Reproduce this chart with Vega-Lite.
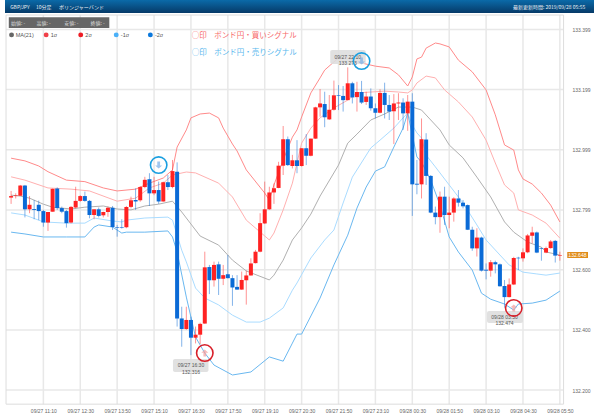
{
"$schema":"https://vega.github.io/schema/vega-lite/v6.json",
"width":599,"height":413,"padding":0,"autosize":{"type":"none"},"background":"#ffffff",
"config":{"view":{"stroke":null},"text":{"font":"Noto Sans CJK JP"},"axis":{"labelFont":"Liberation Sans"}},
"datasets":{
"candles":[
{"t":"2019-09-27T10:00","o":132.840,"h":132.862,"l":132.819,"c":132.845},
{"t":"2019-09-27T10:10","o":132.845,"h":132.854,"l":132.837,"c":132.847},
{"t":"2019-09-27T10:20","o":132.846,"h":132.882,"l":132.846,"c":132.880},
{"t":"2019-09-27T10:30","o":132.880,"h":132.882,"l":132.774,"c":132.801},
{"t":"2019-09-27T10:40","o":132.801,"h":132.845,"l":132.788,"c":132.816},
{"t":"2019-09-27T10:50","o":132.802,"h":132.832,"l":132.768,"c":132.799},
{"t":"2019-09-27T11:00","o":132.816,"h":132.830,"l":132.765,"c":132.795},
{"t":"2019-09-27T11:10","o":132.795,"h":132.799,"l":132.743,"c":132.757},
{"t":"2019-09-27T11:20","o":132.757,"h":132.792,"l":132.729,"c":132.792},
{"t":"2019-09-27T11:30","o":132.793,"h":132.870,"l":132.793,"c":132.869},
{"t":"2019-09-27T11:40","o":132.870,"h":132.874,"l":132.799,"c":132.805},
{"t":"2019-09-27T11:50","o":132.805,"h":132.810,"l":132.788,"c":132.793},
{"t":"2019-09-27T12:00","o":132.795,"h":132.799,"l":132.740,"c":132.755},
{"t":"2019-09-27T12:10","o":132.757,"h":132.812,"l":132.754,"c":132.809},
{"t":"2019-09-27T12:20","o":132.807,"h":132.876,"l":132.804,"c":132.829},
{"t":"2019-09-27T12:30","o":132.829,"h":132.848,"l":132.826,"c":132.845},
{"t":"2019-09-27T12:40","o":132.845,"h":132.860,"l":132.826,"c":132.829},
{"t":"2019-09-27T12:50","o":132.829,"h":132.832,"l":132.771,"c":132.782},
{"t":"2019-09-27T13:00","o":132.782,"h":132.801,"l":132.768,"c":132.801},
{"t":"2019-09-27T13:10","o":132.801,"h":132.807,"l":132.774,"c":132.779},
{"t":"2019-09-27T13:20","o":132.781,"h":132.793,"l":132.774,"c":132.792},
{"t":"2019-09-27T13:30","o":132.792,"h":132.810,"l":132.776,"c":132.806},
{"t":"2019-09-27T13:40","o":132.806,"h":132.812,"l":132.732,"c":132.742},
{"t":"2019-09-27T13:50","o":132.742,"h":132.749,"l":132.710,"c":132.740},
{"t":"2019-09-27T14:00","o":132.741,"h":132.768,"l":132.737,"c":132.739},
{"t":"2019-09-27T14:10","o":132.741,"h":132.812,"l":132.738,"c":132.809},
{"t":"2019-09-27T14:20","o":132.809,"h":132.843,"l":132.804,"c":132.831},
{"t":"2019-09-27T14:30","o":132.832,"h":132.871,"l":132.799,"c":132.827},
{"t":"2019-09-27T14:40","o":132.831,"h":132.878,"l":132.826,"c":132.875},
{"t":"2019-09-27T14:50","o":132.875,"h":132.909,"l":132.871,"c":132.899},
{"t":"2019-09-27T15:00","o":132.901,"h":132.921,"l":132.812,"c":132.854},
{"t":"2019-09-27T15:10","o":132.854,"h":132.909,"l":132.848,"c":132.865},
{"t":"2019-09-27T15:20","o":132.865,"h":132.893,"l":132.819,"c":132.827},
{"t":"2019-09-27T15:30","o":132.827,"h":132.893,"l":132.826,"c":132.891},
{"t":"2019-09-27T15:40","o":132.891,"h":132.915,"l":132.865,"c":132.875},
{"t":"2019-09-27T15:50","o":132.875,"h":132.965,"l":132.871,"c":132.928},
{"t":"2019-09-27T16:00","o":132.926,"h":132.957,"l":132.411,"c":132.438},
{"t":"2019-09-27T16:10","o":132.438,"h":132.477,"l":132.344,"c":132.403},
{"t":"2019-09-27T16:20","o":132.403,"h":132.477,"l":132.400,"c":132.433},
{"t":"2019-09-27T16:30","o":132.433,"h":132.444,"l":132.316,"c":132.374},
{"t":"2019-09-27T16:40","o":132.374,"h":132.411,"l":132.355,"c":132.384},
{"t":"2019-09-27T16:50","o":132.384,"h":132.424,"l":132.353,"c":132.420},
{"t":"2019-09-27T17:00","o":132.421,"h":132.660,"l":132.420,"c":132.608},
{"t":"2019-09-27T17:10","o":132.609,"h":132.616,"l":132.519,"c":132.565},
{"t":"2019-09-27T17:20","o":132.565,"h":132.627,"l":132.544,"c":132.616},
{"t":"2019-09-27T17:30","o":132.618,"h":132.627,"l":132.516,"c":132.570},
{"t":"2019-09-27T17:40","o":132.570,"h":132.616,"l":132.549,"c":132.582},
{"t":"2019-09-27T17:50","o":132.585,"h":132.649,"l":132.571,"c":132.572},
{"t":"2019-09-27T18:00","o":132.572,"h":132.582,"l":132.480,"c":132.541},
{"t":"2019-09-27T18:10","o":132.543,"h":132.582,"l":132.533,"c":132.534},
{"t":"2019-09-27T18:20","o":132.534,"h":132.594,"l":132.533,"c":132.566},
{"t":"2019-09-27T18:30","o":132.565,"h":132.597,"l":132.484,"c":132.581},
{"t":"2019-09-27T18:40","o":132.581,"h":132.638,"l":132.580,"c":132.621},
{"t":"2019-09-27T18:50","o":132.622,"h":132.666,"l":132.621,"c":132.660},
{"t":"2019-09-27T19:00","o":132.660,"h":132.788,"l":132.658,"c":132.755},
{"t":"2019-09-27T19:10","o":132.754,"h":132.893,"l":132.752,"c":132.801},
{"t":"2019-09-27T19:20","o":132.801,"h":132.876,"l":132.799,"c":132.857},
{"t":"2019-09-27T19:30","o":132.857,"h":132.887,"l":132.819,"c":132.871},
{"t":"2019-09-27T19:40","o":132.872,"h":132.959,"l":132.871,"c":132.946},
{"t":"2019-09-27T19:50","o":132.946,"h":133.078,"l":132.915,"c":133.034},
{"t":"2019-09-27T20:00","o":133.034,"h":133.043,"l":132.945,"c":132.948},
{"t":"2019-09-27T20:10","o":132.945,"h":132.982,"l":132.937,"c":132.964},
{"t":"2019-09-27T20:20","o":132.964,"h":133.031,"l":132.921,"c":132.945},
{"t":"2019-09-27T20:30","o":132.945,"h":133.004,"l":132.943,"c":133.004},
{"t":"2019-09-27T20:40","o":133.004,"h":133.051,"l":132.948,"c":132.979},
{"t":"2019-09-27T20:50","o":132.979,"h":133.036,"l":132.977,"c":133.036},
{"t":"2019-09-27T21:00","o":133.036,"h":133.142,"l":133.035,"c":133.140},
{"t":"2019-09-27T21:10","o":133.140,"h":133.201,"l":133.109,"c":133.153},
{"t":"2019-09-27T21:20","o":133.151,"h":133.192,"l":133.074,"c":133.107},
{"t":"2019-09-27T21:30","o":133.100,"h":133.181,"l":133.098,"c":133.132},
{"t":"2019-09-27T21:40","o":133.132,"h":133.229,"l":133.129,"c":133.180},
{"t":"2019-09-27T21:50","o":133.180,"h":133.214,"l":133.131,"c":133.178},
{"t":"2019-09-27T22:00","o":133.178,"h":133.211,"l":133.126,"c":133.164},
{"t":"2019-09-27T22:10","o":133.164,"h":133.273,"l":133.164,"c":133.220},
{"t":"2019-09-27T22:20","o":133.220,"h":133.225,"l":133.153,"c":133.173},
{"t":"2019-09-27T22:30","o":133.174,"h":133.225,"l":133.126,"c":133.191},
{"t":"2019-09-27T22:40","o":133.191,"h":133.228,"l":133.151,"c":133.156},
{"t":"2019-09-27T22:50","o":133.158,"h":133.192,"l":133.148,"c":133.176},
{"t":"2019-09-27T23:00","o":133.176,"h":133.203,"l":133.129,"c":133.137},
{"t":"2019-09-27T23:10","o":133.137,"h":133.153,"l":133.103,"c":133.122},
{"t":"2019-09-27T23:20","o":133.122,"h":133.200,"l":133.120,"c":133.188},
{"t":"2019-09-27T23:30","o":133.188,"h":133.222,"l":133.103,"c":133.148},
{"t":"2019-09-27T23:40","o":133.148,"h":133.181,"l":133.098,"c":133.126},
{"t":"2019-09-27T23:50","o":133.127,"h":133.184,"l":133.018,"c":133.153},
{"t":"2019-09-28T00:00","o":133.153,"h":133.187,"l":133.098,"c":133.156},
{"t":"2019-09-28T00:10","o":133.156,"h":133.170,"l":133.065,"c":133.120},
{"t":"2019-09-28T00:20","o":133.120,"h":133.181,"l":133.062,"c":133.159},
{"t":"2019-09-28T00:30","o":133.159,"h":133.187,"l":132.779,"c":132.884},
{"t":"2019-09-28T00:40","o":132.886,"h":132.965,"l":132.851,"c":132.883},
{"t":"2019-09-28T00:50","o":132.884,"h":133.103,"l":132.837,"c":133.034},
{"t":"2019-09-28T01:00","o":133.033,"h":133.054,"l":132.882,"c":132.912},
{"t":"2019-09-28T01:10","o":132.912,"h":132.915,"l":132.788,"c":132.790},
{"t":"2019-09-28T01:20","o":132.790,"h":132.810,"l":132.751,"c":132.775},
{"t":"2019-09-28T01:30","o":132.775,"h":132.860,"l":132.723,"c":132.843},
{"t":"2019-09-28T01:40","o":132.843,"h":132.876,"l":132.749,"c":132.782},
{"t":"2019-09-28T01:50","o":132.782,"h":132.843,"l":132.738,"c":132.790},
{"t":"2019-09-28T02:00","o":132.790,"h":132.841,"l":132.760,"c":132.837},
{"t":"2019-09-28T02:10","o":132.837,"h":132.865,"l":132.810,"c":132.823},
{"t":"2019-09-28T02:20","o":132.823,"h":132.832,"l":132.804,"c":132.811},
{"t":"2019-09-28T02:30","o":132.815,"h":132.817,"l":132.732,"c":132.733},
{"t":"2019-09-28T02:40","o":132.733,"h":132.743,"l":132.663,"c":132.671},
{"t":"2019-09-28T02:50","o":132.671,"h":132.738,"l":132.644,"c":132.707},
{"t":"2019-09-28T03:00","o":132.707,"h":132.710,"l":132.594,"c":132.597},
{"t":"2019-09-28T03:10","o":132.600,"h":132.621,"l":132.568,"c":132.597},
{"t":"2019-09-28T03:20","o":132.597,"h":132.632,"l":132.577,"c":132.625},
{"t":"2019-09-28T03:30","o":132.625,"h":132.630,"l":132.588,"c":132.618},
{"t":"2019-09-28T03:40","o":132.618,"h":132.621,"l":132.544,"c":132.545},
{"t":"2019-09-28T03:50","o":132.546,"h":132.566,"l":132.474,"c":132.509},
{"t":"2019-09-28T04:00","o":132.509,"h":132.571,"l":132.508,"c":132.551},
{"t":"2019-09-28T04:10","o":132.551,"h":132.643,"l":132.549,"c":132.639},
{"t":"2019-09-28T04:20","o":132.640,"h":132.643,"l":132.599,"c":132.638},
{"t":"2019-09-28T04:30","o":132.638,"h":132.671,"l":132.627,"c":132.658},
{"t":"2019-09-28T04:40","o":132.658,"h":132.719,"l":132.655,"c":132.714},
{"t":"2019-09-28T04:50","o":132.713,"h":132.743,"l":132.688,"c":132.724},
{"t":"2019-09-28T05:00","o":132.724,"h":132.727,"l":132.655,"c":132.657},
{"t":"2019-09-28T05:10","o":132.671,"h":132.674,"l":132.630,"c":132.669},
{"t":"2019-09-28T05:20","o":132.657,"h":132.677,"l":132.655,"c":132.672},
{"t":"2019-09-28T05:30","o":132.672,"h":132.699,"l":132.670,"c":132.694},
{"t":"2019-09-28T05:40","o":132.696,"h":132.699,"l":132.624,"c":132.647},
{"t":"2019-09-28T05:50","o":132.647,"h":132.660,"l":132.630,"c":132.649}
],
"bands":[
{"s":"MA(21)","t":"2019-09-27T10:00","v":132.848},{"s":"MA(21)","t":"2019-09-27T10:20","v":132.845},{"s":"MA(21)","t":"2019-09-27T10:40","v":132.838},{"s":"MA(21)","t":"2019-09-27T11:10","v":132.818},{"s":"MA(21)","t":"2019-09-27T11:30","v":132.808},{"s":"MA(21)","t":"2019-09-27T12:10","v":132.802},{"s":"MA(21)","t":"2019-09-27T12:40","v":132.808},{"s":"MA(21)","t":"2019-09-27T13:20","v":132.812},{"s":"MA(21)","t":"2019-09-27T13:50","v":132.802},{"s":"MA(21)","t":"2019-09-27T14:20","v":132.799},{"s":"MA(21)","t":"2019-09-27T14:50","v":132.812},{"s":"MA(21)","t":"2019-09-27T15:20","v":132.818},{"s":"MA(21)","t":"2019-09-27T15:50","v":132.828},{"s":"MA(21)","t":"2019-09-27T16:10","v":132.792},{"s":"MA(21)","t":"2019-09-27T16:20","v":132.772},{"s":"MA(21)","t":"2019-09-27T16:50","v":132.712},{"s":"MA(21)","t":"2019-09-27T17:30","v":132.682},{"s":"MA(21)","t":"2019-09-27T18:00","v":132.632},{"s":"MA(21)","t":"2019-09-27T18:30","v":132.596},{"s":"MA(21)","t":"2019-09-27T19:20","v":132.566},{"s":"MA(21)","t":"2019-09-27T19:30","v":132.582},{"s":"MA(21)","t":"2019-09-27T19:50","v":132.632},{"s":"MA(21)","t":"2019-09-27T20:10","v":132.699},{"s":"MA(21)","t":"2019-09-27T20:30","v":132.739},{"s":"MA(21)","t":"2019-09-27T20:50","v":132.785},{"s":"MA(21)","t":"2019-09-27T21:10","v":132.845},{"s":"MA(21)","t":"2019-09-27T21:50","v":132.948},{"s":"MA(21)","t":"2019-09-27T22:10","v":133.021},{"s":"MA(21)","t":"2019-09-27T22:30","v":133.051},{"s":"MA(21)","t":"2019-09-27T23:00","v":133.098},{"s":"MA(21)","t":"2019-09-27T23:30","v":133.118},{"s":"MA(21)","t":"2019-09-28T00:00","v":133.141},{"s":"MA(21)","t":"2019-09-28T00:30","v":133.141},{"s":"MA(21)","t":"2019-09-28T00:50","v":133.131},{"s":"MA(21)","t":"2019-09-28T01:10","v":133.098},{"s":"MA(21)","t":"2019-09-28T01:30","v":133.065},{"s":"MA(21)","t":"2019-09-28T01:50","v":133.015},{"s":"MA(21)","t":"2019-09-28T02:20","v":132.972},{"s":"MA(21)","t":"2019-09-28T02:50","v":132.908},{"s":"MA(21)","t":"2019-09-28T03:20","v":132.842},{"s":"MA(21)","t":"2019-09-28T03:50","v":132.759},{"s":"MA(21)","t":"2019-09-28T04:10","v":132.725},{"s":"MA(21)","t":"2019-09-28T04:40","v":132.692},{"s":"MA(21)","t":"2019-09-28T05:10","v":132.675},{"s":"MA(21)","t":"2019-09-28T05:20","v":132.659},{"s":"MA(21)","t":"2019-09-28T05:50","v":132.649},
{"s":"1σ","t":"2019-09-27T10:00","v":132.909},{"s":"1σ","t":"2019-09-27T10:30","v":132.898},{"s":"1σ","t":"2019-09-27T11:20","v":132.872},{"s":"1σ","t":"2019-09-27T12:10","v":132.868},{"s":"1σ","t":"2019-09-27T12:50","v":132.862},{"s":"1σ","t":"2019-09-27T13:50","v":132.828},{"s":"1σ","t":"2019-09-27T14:30","v":132.838},{"s":"1σ","t":"2019-09-27T15:00","v":132.872},{"s":"1σ","t":"2019-09-27T15:30","v":132.888},{"s":"1σ","t":"2019-09-27T15:50","v":132.915},{"s":"1σ","t":"2019-09-27T16:20","v":132.925},{"s":"1σ","t":"2019-09-27T16:40","v":132.922},{"s":"1σ","t":"2019-09-27T17:30","v":132.888},{"s":"1σ","t":"2019-09-27T18:00","v":132.842},{"s":"1σ","t":"2019-09-27T18:30","v":132.765},{"s":"1σ","t":"2019-09-27T19:20","v":132.699},{"s":"1σ","t":"2019-09-27T19:30","v":132.722},{"s":"1σ","t":"2019-09-27T19:50","v":132.799},{"s":"1σ","t":"2019-09-27T20:10","v":132.888},{"s":"1σ","t":"2019-09-27T20:20","v":132.955},{"s":"1σ","t":"2019-09-27T20:30","v":133.021},{"s":"1σ","t":"2019-09-27T20:50","v":133.071},{"s":"1σ","t":"2019-09-27T21:10","v":133.105},{"s":"1σ","t":"2019-09-27T21:40","v":133.138},{"s":"1σ","t":"2019-09-27T22:10","v":133.164},{"s":"1σ","t":"2019-09-27T22:30","v":133.188},{"s":"1σ","t":"2019-09-27T23:00","v":133.191},{"s":"1σ","t":"2019-09-27T23:30","v":133.194},{"s":"1σ","t":"2019-09-28T00:00","v":133.191},{"s":"1σ","t":"2019-09-28T00:20","v":133.188},{"s":"1σ","t":"2019-09-28T00:30","v":133.198},{"s":"1σ","t":"2019-09-28T00:40","v":133.221},{"s":"1σ","t":"2019-09-28T01:00","v":133.244},{"s":"1σ","t":"2019-09-28T01:20","v":133.238},{"s":"1σ","t":"2019-09-28T01:40","v":133.198},{"s":"1σ","t":"2019-09-28T02:10","v":133.158},{"s":"1σ","t":"2019-09-28T02:40","v":133.108},{"s":"1σ","t":"2019-09-28T03:10","v":133.031},{"s":"1σ","t":"2019-09-28T03:30","v":132.955},{"s":"1σ","t":"2019-09-28T03:50","v":132.882},{"s":"1σ","t":"2019-09-28T04:10","v":132.855},{"s":"1σ","t":"2019-09-28T04:20","v":132.799},{"s":"1σ","t":"2019-09-28T04:50","v":132.782},{"s":"1σ","t":"2019-09-28T05:20","v":132.755},{"s":"1σ","t":"2019-09-28T05:50","v":132.705},
{"s":"2σ","t":"2019-09-27T10:00","v":132.971},{"s":"2σ","t":"2019-09-27T10:30","v":132.962},{"s":"2σ","t":"2019-09-27T11:00","v":132.945},{"s":"2σ","t":"2019-09-27T11:20","v":132.926},{"s":"2σ","t":"2019-09-27T12:00","v":132.898},{"s":"2σ","t":"2019-09-27T12:40","v":132.893},{"s":"2σ","t":"2019-09-27T13:20","v":132.872},{"s":"2σ","t":"2019-09-27T13:50","v":132.862},{"s":"2σ","t":"2019-09-27T14:30","v":132.868},{"s":"2σ","t":"2019-09-27T15:00","v":132.888},{"s":"2σ","t":"2019-09-27T15:30","v":132.905},{"s":"2σ","t":"2019-09-27T15:50","v":132.932},{"s":"2σ","t":"2019-09-27T16:00","v":133.008},{"s":"2σ","t":"2019-09-27T16:20","v":133.065},{"s":"2σ","t":"2019-09-27T16:30","v":133.105},{"s":"2σ","t":"2019-09-27T16:50","v":133.118},{"s":"2σ","t":"2019-09-27T17:10","v":133.121},{"s":"2σ","t":"2019-09-27T17:30","v":133.105},{"s":"2σ","t":"2019-09-27T17:40","v":133.071},{"s":"2σ","t":"2019-09-27T18:00","v":133.018},{"s":"2σ","t":"2019-09-27T18:10","v":132.995},{"s":"2σ","t":"2019-09-27T18:30","v":132.932},{"s":"2σ","t":"2019-09-27T19:10","v":132.855},{"s":"2σ","t":"2019-09-27T19:20","v":132.832},{"s":"2σ","t":"2019-09-27T19:30","v":132.882},{"s":"2σ","t":"2019-09-27T19:50","v":132.965},{"s":"2σ","t":"2019-09-27T20:10","v":133.041},{"s":"2σ","t":"2019-09-27T20:20","v":133.065},{"s":"2σ","t":"2019-09-27T20:30","v":133.108},{"s":"2σ","t":"2019-09-27T20:50","v":133.188},{"s":"2σ","t":"2019-09-27T21:10","v":133.238},{"s":"2σ","t":"2019-09-27T21:20","v":133.264},{"s":"2σ","t":"2019-09-27T21:40","v":133.291},{"s":"2σ","t":"2019-09-27T21:50","v":133.304},{"s":"2σ","t":"2019-09-27T22:10","v":133.304},{"s":"2σ","t":"2019-09-27T22:30","v":133.291},{"s":"2σ","t":"2019-09-27T23:10","v":133.277},{"s":"2σ","t":"2019-09-27T23:40","v":133.271},{"s":"2σ","t":"2019-09-28T00:00","v":133.248},{"s":"2σ","t":"2019-09-28T00:20","v":133.211},{"s":"2σ","t":"2019-09-28T00:30","v":133.241},{"s":"2σ","t":"2019-09-28T00:40","v":133.301},{"s":"2σ","t":"2019-09-28T00:50","v":133.307},{"s":"2σ","t":"2019-09-28T01:00","v":133.337},{"s":"2σ","t":"2019-09-28T01:20","v":133.354},{"s":"2σ","t":"2019-09-28T01:30","v":133.351},{"s":"2σ","t":"2019-09-28T01:50","v":133.341},{"s":"2σ","t":"2019-09-28T02:10","v":133.297},{"s":"2σ","t":"2019-09-28T02:40","v":133.258},{"s":"2σ","t":"2019-09-28T03:10","v":133.198},{"s":"2σ","t":"2019-09-28T03:30","v":133.115},{"s":"2σ","t":"2019-09-28T03:50","v":133.015},{"s":"2σ","t":"2019-09-28T04:10","v":132.998},{"s":"2σ","t":"2019-09-28T04:20","v":132.932},{"s":"2σ","t":"2019-09-28T04:30","v":132.902},{"s":"2σ","t":"2019-09-28T04:50","v":132.885},{"s":"2σ","t":"2019-09-28T05:10","v":132.855},{"s":"2σ","t":"2019-09-28T05:30","v":132.815},{"s":"2σ","t":"2019-09-28T05:50","v":132.759},
{"s":"-1σ","t":"2019-09-27T10:00","v":132.789},{"s":"-1σ","t":"2019-09-27T10:30","v":132.782},{"s":"-1σ","t":"2019-09-27T11:10","v":132.759},{"s":"-1σ","t":"2019-09-27T12:00","v":132.755},{"s":"-1σ","t":"2019-09-27T12:40","v":132.755},{"s":"-1σ","t":"2019-09-27T13:00","v":132.772},{"s":"-1σ","t":"2019-09-27T13:40","v":132.762},{"s":"-1σ","t":"2019-09-27T14:00","v":132.759},{"s":"-1σ","t":"2019-09-27T14:10","v":132.765},{"s":"-1σ","t":"2019-09-27T14:50","v":132.772},{"s":"-1σ","t":"2019-09-27T15:40","v":132.775},{"s":"-1σ","t":"2019-09-27T15:50","v":132.765},{"s":"-1σ","t":"2019-09-27T16:00","v":132.715},{"s":"-1σ","t":"2019-09-27T16:10","v":132.665},{"s":"-1σ","t":"2019-09-27T16:20","v":132.626},{"s":"-1σ","t":"2019-09-27T16:40","v":132.539},{"s":"-1σ","t":"2019-09-27T17:00","v":132.506},{"s":"-1σ","t":"2019-09-27T17:30","v":132.483},{"s":"-1σ","t":"2019-09-27T18:00","v":132.449},{"s":"-1σ","t":"2019-09-27T18:30","v":132.426},{"s":"-1σ","t":"2019-09-27T19:00","v":132.426},{"s":"-1σ","t":"2019-09-27T19:20","v":132.439},{"s":"-1σ","t":"2019-09-27T19:50","v":132.473},{"s":"-1σ","t":"2019-09-27T20:10","v":132.532},{"s":"-1σ","t":"2019-09-27T20:20","v":132.556},{"s":"-1σ","t":"2019-09-27T20:50","v":132.639},{"s":"-1σ","t":"2019-09-27T21:20","v":132.699},{"s":"-1σ","t":"2019-09-27T21:40","v":132.732},{"s":"-1σ","t":"2019-09-27T22:00","v":132.822},{"s":"-1σ","t":"2019-09-27T22:20","v":132.908},{"s":"-1σ","t":"2019-09-27T23:00","v":133.005},{"s":"-1σ","t":"2019-09-27T23:20","v":133.031},{"s":"-1σ","t":"2019-09-27T23:50","v":133.071},{"s":"-1σ","t":"2019-09-28T00:10","v":133.105},{"s":"-1σ","t":"2019-09-28T00:20","v":133.121},{"s":"-1σ","t":"2019-09-28T00:30","v":133.081},{"s":"-1σ","t":"2019-09-28T00:40","v":133.055},{"s":"-1σ","t":"2019-09-28T00:50","v":133.038},{"s":"-1σ","t":"2019-09-28T01:00","v":132.981},{"s":"-1σ","t":"2019-09-28T01:20","v":132.942},{"s":"-1σ","t":"2019-09-28T01:50","v":132.882},{"s":"-1σ","t":"2019-09-28T02:20","v":132.822},{"s":"-1σ","t":"2019-09-28T02:50","v":132.749},{"s":"-1σ","t":"2019-09-28T03:10","v":132.699},{"s":"-1σ","t":"2019-09-28T03:40","v":132.649},{"s":"-1σ","t":"2019-09-28T04:00","v":132.616},{"s":"-1σ","t":"2019-09-28T04:30","v":132.592},{"s":"-1σ","t":"2019-09-28T05:00","v":132.586},{"s":"-1σ","t":"2019-09-28T05:20","v":132.582},{"s":"-1σ","t":"2019-09-28T05:50","v":132.589},
{"s":"-2σ","t":"2019-09-27T10:00","v":132.725},{"s":"-2σ","t":"2019-09-27T10:30","v":132.719},{"s":"-2σ","t":"2019-09-27T11:10","v":132.709},{"s":"-2σ","t":"2019-09-27T12:00","v":132.709},{"s":"-2σ","t":"2019-09-27T12:40","v":132.709},{"s":"-2σ","t":"2019-09-27T13:00","v":132.742},{"s":"-2σ","t":"2019-09-27T13:10","v":132.749},{"s":"-2σ","t":"2019-09-27T13:40","v":132.742},{"s":"-2σ","t":"2019-09-27T14:00","v":132.722},{"s":"-2σ","t":"2019-09-27T14:10","v":132.725},{"s":"-2σ","t":"2019-09-27T14:50","v":132.725},{"s":"-2σ","t":"2019-09-27T15:40","v":132.729},{"s":"-2σ","t":"2019-09-27T15:50","v":132.709},{"s":"-2σ","t":"2019-09-27T16:00","v":132.659},{"s":"-2σ","t":"2019-09-27T16:20","v":132.509},{"s":"-2σ","t":"2019-09-27T16:40","v":132.376},{"s":"-2σ","t":"2019-09-27T17:00","v":132.323},{"s":"-2σ","t":"2019-09-27T17:20","v":132.283},{"s":"-2σ","t":"2019-09-27T18:00","v":132.250},{"s":"-2σ","t":"2019-09-27T18:40","v":132.260},{"s":"-2σ","t":"2019-09-27T19:20","v":132.310},{"s":"-2σ","t":"2019-09-27T19:50","v":132.296},{"s":"-2σ","t":"2019-09-27T20:10","v":132.356},{"s":"-2σ","t":"2019-09-27T20:20","v":132.386},{"s":"-2σ","t":"2019-09-27T20:30","v":132.386},{"s":"-2σ","t":"2019-09-27T20:40","v":132.416},{"s":"-2σ","t":"2019-09-27T21:10","v":132.506},{"s":"-2σ","t":"2019-09-27T21:40","v":132.616},{"s":"-2σ","t":"2019-09-27T22:10","v":132.715},{"s":"-2σ","t":"2019-09-27T22:30","v":132.805},{"s":"-2σ","t":"2019-09-27T22:50","v":132.875},{"s":"-2σ","t":"2019-09-27T23:10","v":132.928},{"s":"-2σ","t":"2019-09-27T23:30","v":132.942},{"s":"-2σ","t":"2019-09-27T23:50","v":133.008},{"s":"-2σ","t":"2019-09-28T00:10","v":133.071},{"s":"-2σ","t":"2019-09-28T00:20","v":133.121},{"s":"-2σ","t":"2019-09-28T00:30","v":133.048},{"s":"-2σ","t":"2019-09-28T00:40","v":132.975},{"s":"-2σ","t":"2019-09-28T00:50","v":132.958},{"s":"-2σ","t":"2019-09-28T01:10","v":132.898},{"s":"-2σ","t":"2019-09-28T01:30","v":132.815},{"s":"-2σ","t":"2019-09-28T01:50","v":132.709},{"s":"-2σ","t":"2019-09-28T02:10","v":132.659},{"s":"-2σ","t":"2019-09-28T02:40","v":132.599},{"s":"-2σ","t":"2019-09-28T03:00","v":132.522},{"s":"-2σ","t":"2019-09-28T03:20","v":132.502},{"s":"-2σ","t":"2019-09-28T03:50","v":132.486},{"s":"-2σ","t":"2019-09-28T04:10","v":132.466},{"s":"-2σ","t":"2019-09-28T04:20","v":132.486},{"s":"-2σ","t":"2019-09-28T04:50","v":132.489},{"s":"-2σ","t":"2019-09-28T05:20","v":132.499},{"s":"-2σ","t":"2019-09-28T05:50","v":132.529}
],
"vgrid":[{"t":"2019-09-27T11:10"},{"t":"2019-09-27T12:30"},{"t":"2019-09-27T13:50"},{"t":"2019-09-27T15:10"},{"t":"2019-09-27T16:30"},{"t":"2019-09-27T17:50"},{"t":"2019-09-27T19:10"},{"t":"2019-09-27T20:30"},{"t":"2019-09-27T21:50"},{"t":"2019-09-27T23:10"},{"t":"2019-09-28T00:30"},{"t":"2019-09-28T01:50"},{"t":"2019-09-28T03:10"},{"t":"2019-09-28T04:30"},{"t":"2019-09-28T05:50"}],
"hgrid":[{"p":133.399},{"p":133.199},{"p":132.999},{"p":132.799},{"p":132.6},{"p":132.4},{"p":132.2}],
"key":[{"s":"MA(21)","t":"2019-09-27T10:01","tl":"2019-09-27T10:10"},{"s":"1σ","t":"2019-09-27T11:16","tl":"2019-09-27T11:26"},{"s":"2σ","t":"2019-09-27T12:31","tl":"2019-09-27T12:41"},{"s":"-1σ","t":"2019-09-27T13:48","tl":"2019-09-27T13:58"},{"s":"-2σ","t":"2019-09-27T15:02","tl":"2019-09-27T15:12"}]
},
"layer":[
{"data":{"values":[{"a":"2019-09-27T09:46:47","b":"2019-09-28T07:04","p":133.497,"p2":133.454}]},"mark":{"type":"rect","color":{"gradient":"linear","x1":0,"y1":0,"x2":0,"y2":1,"stops":[{"offset":0,"color":"#0b6aa8"},{"offset":1,"color":"#063a68"}]}},"encoding":{"x":{"field":"a","type":"temporal","scale":{"domain":["2019-09-27T09:46:47","2019-09-28T07:04"]},"axis":{"orient":"bottom","offset":-9,"values":["2019-09-27T11:10","2019-09-27T12:30","2019-09-27T13:50","2019-09-27T15:10","2019-09-27T16:30","2019-09-27T17:50","2019-09-27T19:10","2019-09-27T20:30","2019-09-27T21:50","2019-09-27T23:10","2019-09-28T00:30","2019-09-28T01:50","2019-09-28T03:10","2019-09-28T04:30","2019-09-28T05:50"],"format":"%m/%d %H:%M","title":null,"grid":false,"domain":false,"ticks":false,"labelFontSize":5,"labelColor":"#666666","labelPadding":4,"labelOverlap":false,"labelFlush":false,"labelAngle":0}},"x2":{"field":"b"},"y":{"field":"p","type":"quantitative","scale":{"domain":[132.1236,133.497],"nice":false,"zero":false},"axis":{"orient":"right","offset":-31,"values":[133.399,133.199,132.999,132.799,132.6,132.4,132.2],"format":".3f","title":null,"grid":false,"domain":false,"ticks":false,"labelFontSize":5,"labelColor":"#666666","labelPadding":4,"labelOverlap":false}},"y2":{"field":"p2"}}},
{"data":{"name":"vgrid"},"mark":{"type":"rule","color":"#e8e8e8","strokeWidth":1.5},"encoding":{"x":{"field":"t","type":"temporal"},"y":{"datum":133.447},"y2":{"datum":132.153}}},
{"data":{"name":"hgrid"},"mark":{"type":"rule","color":"#e8e8e8","strokeWidth":1.5},"encoding":{"y":{"field":"p","type":"quantitative"},"x":{"datum":{"year":2019,"month":9,"date":27,"hours":9,"minutes":49},"type":"temporal"},"x2":{"datum":{"year":2019,"month":9,"date":28,"hours":5,"minutes":58}}}},
{"data":{"values":[{"a":"2019-09-27T09:49","b":"2019-09-28T05:58","p":133.447,"p2":132.153}]},"mark":{"type":"rect","fillOpacity":0,"stroke":"#dddddd","strokeWidth":1},"encoding":{"x":{"field":"a","type":"temporal"},"x2":{"field":"b"},"y":{"field":"p","type":"quantitative"},"y2":{"field":"p2"}}},
{"data":{"values":[{"a":"2019-09-27T09:55","b":"2019-09-27T13:33","p":133.44,"p2":133.404}]},"mark":{"type":"rect","color":"#666666"},"encoding":{"x":{"field":"a","type":"temporal"},"x2":{"field":"b"},"y":{"field":"p","type":"quantitative"},"y2":{"field":"p2"}}},
{"data":{"name":"bands"},"mark":{"type":"line","strokeWidth":1},"encoding":{"x":{"field":"t","type":"temporal"},"y":{"field":"v","type":"quantitative"},"stroke":{"field":"s","type":"nominal","scale":{"domain":["MA(21)","1σ","2σ","-1σ","-2σ"],"range":["#b0b0b0","#ffb0b0","#ff8a8a","#aadcff","#6ab8f0"]},"legend":null}}},
{"data":{"name":"candles"},"mark":{"type":"rule","strokeWidth":1,"opacity":0.5},"encoding":{"x":{"field":"t","type":"temporal"},"y":{"field":"l","type":"quantitative"},"y2":{"field":"h"},"stroke":{"condition":{"test":"datum.c>=datum.o","value":"#ff2a2a"},"value":"#0a6ad6"}}},
{"data":{"name":"candles"},"mark":{"type":"bar","size":4},"encoding":{"x":{"field":"t","type":"temporal"},"y":{"field":"o","type":"quantitative"},"y2":{"field":"c"},"fill":{"condition":{"test":"datum.c>=datum.o","value":"#ff2222"},"value":"#0a6ad6"}}},
{"data":{"values":[{"a":"2019-09-27T15:51","b":"2019-09-27T17:08","p":132.303,"p2":132.26},{"a":"2019-09-27T21:32","b":"2019-09-27T22:49","p":133.331,"p2":133.284},{"a":"2019-09-28T03:12","b":"2019-09-28T04:30","p":132.463,"p2":132.423}]},"mark":{"type":"rect","color":"#dedede","cornerRadius":2,"opacity":0.9},"encoding":{"x":{"field":"a","type":"temporal"},"x2":{"field":"b"},"y":{"field":"p","type":"quantitative"},"y2":{"field":"p2"}}},
{"data":{"values":[{"t":"2019-09-27T16:30","p":132.282,"text":"09/27 16:30\n132.316"},{"t":"2019-09-27T22:10","p":133.308,"text":"09/27 22:10\n133.273"},{"t":"2019-09-28T03:50","p":132.443,"text":"09/28 03:50\n132.474"}]},"mark":{"type":"text","font":"Liberation Sans","fontSize":5,"color":"#555555","lineBreak":"\n","lineHeight":6.5,"baseline":"middle"},"encoding":{"x":{"field":"t","type":"temporal"},"y":{"field":"p","type":"quantitative"},"text":{"field":"text"}}},
{"data":{"values":[{"t":"2019-09-27T15:20","p":132.948},{"t":"2019-09-27T22:40","p":133.294}]},"mark":{"type":"point","shape":"M-0.4,-1L0.4,-1L0.4,0.1L1,0.1L0,1L-1,0.1L-0.4,0.1Z","filled":true,"size":49,"color":"#78aee8"},"encoding":{"x":{"field":"t","type":"temporal"},"y":{"field":"p","type":"quantitative"}}},
{"data":{"values":[{"t":"2019-09-27T17:00","p":132.323},{"t":"2019-09-28T04:10","p":132.473}]},"mark":{"type":"point","shape":"M-0.4,1L0.4,1L0.4,-0.1L1,-0.1L0,-1L-1,-0.1L-0.4,-0.1Z","filled":true,"size":49,"color":"#f39a9a"},"encoding":{"x":{"field":"t","type":"temporal"},"y":{"field":"p","type":"quantitative"}}},
{"data":{"values":[{"t":"2019-09-27T15:20","p":132.948},{"t":"2019-09-27T22:40","p":133.294}]},"mark":{"type":"point","shape":"circle","size":270,"stroke":"#1a9fe0","strokeWidth":1.6,"fillOpacity":0},"encoding":{"x":{"field":"t","type":"temporal"},"y":{"field":"p","type":"quantitative"}}},
{"data":{"values":[{"t":"2019-09-27T17:00","p":132.323},{"t":"2019-09-28T04:10","p":132.473}]},"mark":{"type":"point","shape":"circle","size":270,"stroke":"#d81e28","strokeWidth":1.6,"fillOpacity":0},"encoding":{"x":{"field":"t","type":"temporal"},"y":{"field":"p","type":"quantitative"}}},
{"data":{"values":[{"a":"2019-09-28T06:06","b":"2019-09-28T06:51","p":132.659,"p2":132.639}]},"mark":{"type":"rect","color":"#e08c1a"},"encoding":{"x":{"field":"a","type":"temporal"},"x2":{"field":"b"},"y":{"field":"p","type":"quantitative"},"y2":{"field":"p2"}}},
{"data":{"values":[{"t":"2019-09-28T06:28","p":132.649,"text":"132.648"}]},"mark":{"type":"text","font":"Liberation Sans","fontSize":5,"color":"#ffffff","baseline":"middle"},"encoding":{"x":{"field":"t","type":"temporal"},"y":{"field":"p","type":"quantitative"},"text":{"field":"text"}}},
{"data":{"values":[{"t":"2019-09-27T09:58","p":133.475,"text":"GBP/JPY"},{"t":"2019-09-27T10:54","p":133.475,"text":"10分足"},{"t":"2019-09-27T11:44","p":133.475,"text":"ボリンジャーバンド"}]},"mark":{"type":"text","fontSize":5,"color":"#e8eef4","align":"left","baseline":"middle"},"encoding":{"x":{"field":"t","type":"temporal"},"y":{"field":"p","type":"quantitative"},"text":{"field":"text"}}},
{"data":{"values":[{"t":"2019-09-28T06:45","p":133.475,"text":"最新更新時間: 2019/09/28 05:55"}]},"mark":{"type":"text","fontSize":5,"color":"#e8eef4","align":"right","baseline":"middle"},"encoding":{"x":{"field":"t","type":"temporal"},"y":{"field":"p","type":"quantitative"},"text":{"field":"text"}}},
{"data":{"values":[{"t":"2019-09-27T10:00","text":"始値: -"},{"t":"2019-09-27T10:55","text":"高値: -"},{"t":"2019-09-27T11:55","text":"安値: -"},{"t":"2019-09-27T12:52","text":"終値: -"}]},"mark":{"type":"text","fontSize":5,"color":"#dddddd","align":"left","baseline":"middle"},"encoding":{"x":{"field":"t","type":"temporal"},"y":{"datum":133.422},"text":{"field":"text"}}},
{"data":{"name":"key"},"mark":{"type":"point","shape":"circle","filled":true,"size":24,"opacity":1},"encoding":{"x":{"field":"t","type":"temporal"},"y":{"datum":133.381},"fill":{"field":"s","type":"nominal","scale":{"domain":["MA(21)","1σ","2σ","-1σ","-2σ"],"range":["#666666","#f04048","#ee1c24","#4ab0f8","#0a78dc"]},"legend":null}}},
{"data":{"name":"key"},"mark":{"type":"text","font":"Liberation Sans","fontSize":5.5,"color":"#555555","align":"left","baseline":"middle"},"encoding":{"x":{"field":"tl","type":"temporal"},"y":{"datum":133.381},"text":{"field":"s"}}},
{"data":{"values":[{"t":"2019-09-27T16:32","p":133.376,"text":"○印　ボンド円・買いシグナル"}]},"mark":{"type":"text","fontSize":7.5,"color":"#f76a6a","align":"left","baseline":"middle"},"encoding":{"x":{"field":"t","type":"temporal"},"y":{"field":"p","type":"quantitative"},"text":{"field":"text"}}},
{"data":{"values":[{"t":"2019-09-27T16:32","p":133.321,"text":"○印　ボンド円・売りシグナル"}]},"mark":{"type":"text","fontSize":7.5,"color":"#58b8ee","align":"left","baseline":"middle"},"encoding":{"x":{"field":"t","type":"temporal"},"y":{"field":"p","type":"quantitative"},"text":{"field":"text"}}}
]
}
